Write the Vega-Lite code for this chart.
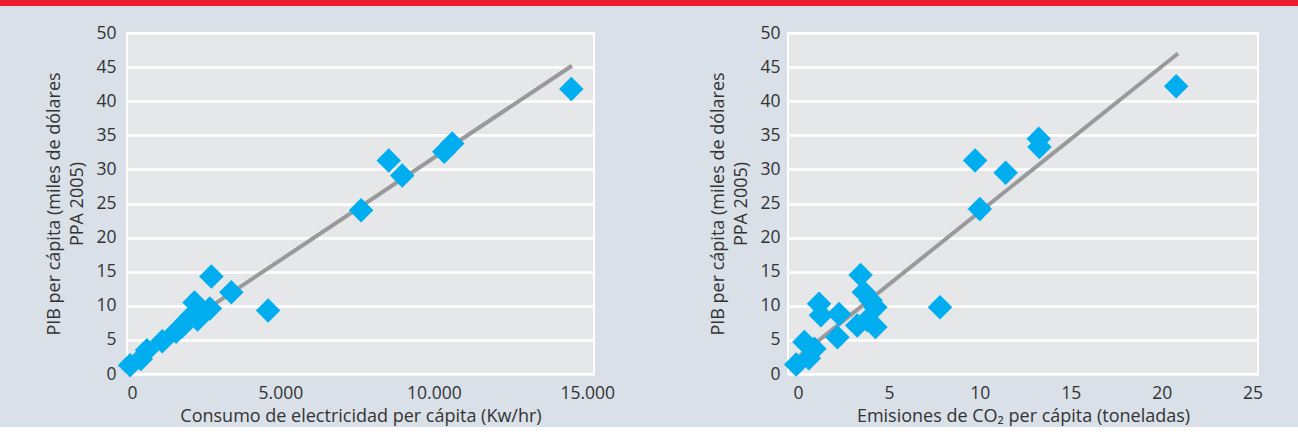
{
  "$schema": "https://vega.github.io/schema/vega-lite/v6.json",
  "background": "#d9e0e8",
  "padding": 0,
  "spacing": 17,
  "config": {
    "view": {"fill": "#e6e7e8", "stroke": "white", "strokeWidth": 2},
    "font": "Open Sans",
    "axis": {
      "domain": false,
      "ticks": false,
      "labelFont": "Open Sans",
      "labelFontSize": 17.5,
      "labelColor": "#333333",
      "titleFont": "Open Sans",
      "titleFontSize": 18,
      "titleFontWeight": "normal",
      "titleColor": "#333333",
      "titleLineHeight": 23,
      "gridColor": "white",
      "gridWidth": 2.5,
      "gridOpacity": 1,
      "labelOverlap": false
    }
  },
  "datasets": {
    "elec": [
      {"x": 100, "y": 1.3}, {"x": 450, "y": 2.2}, {"x": 650, "y": 3.5},
      {"x": 1150, "y": 4.8}, {"x": 1600, "y": 6.2}, {"x": 1800, "y": 7.0},
      {"x": 1950, "y": 7.8}, {"x": 2100, "y": 8.5}, {"x": 2200, "y": 10.5},
      {"x": 2300, "y": 8.0}, {"x": 2700, "y": 9.6}, {"x": 2750, "y": 14.3},
      {"x": 3400, "y": 12.0}, {"x": 4600, "y": 9.3}, {"x": 7630, "y": 24.0},
      {"x": 8530, "y": 31.3}, {"x": 8970, "y": 29.1}, {"x": 10340, "y": 32.6},
      {"x": 10600, "y": 33.8}, {"x": 14480, "y": 41.8}
    ],
    "elecfit": [{"x": 100, "y": 2.0}, {"x": 14500, "y": 45.2}],
    "co2": [
      {"x": -0.1, "y": 1.4}, {"x": 0.35, "y": 4.7}, {"x": 0.6, "y": 2.3},
      {"x": 0.9, "y": 3.7}, {"x": 1.16, "y": 10.3}, {"x": 1.26, "y": 8.6},
      {"x": 2.17, "y": 5.4}, {"x": 2.26, "y": 8.8}, {"x": 3.44, "y": 14.5},
      {"x": 3.62, "y": 12.0}, {"x": 3.26, "y": 7.1}, {"x": 3.99, "y": 10.8},
      {"x": 4.26, "y": 9.8}, {"x": 3.8, "y": 7.9}, {"x": 4.26, "y": 6.9},
      {"x": 7.81, "y": 9.8}, {"x": 10.0, "y": 24.2}, {"x": 9.74, "y": 31.3},
      {"x": 11.42, "y": 29.5}, {"x": 13.24, "y": 34.5}, {"x": 13.28, "y": 33.3},
      {"x": 20.8, "y": 42.2}
    ],
    "co2fit": [{"x": 0.1, "y": 2.7}, {"x": 20.9, "y": 47.0}]
  },
  "vconcat": [
    {
      "width": 1298,
      "height": 6,
      "view": {"fill": "#ed1b2f", "stroke": null},
      "data": {"values": [{}]},
      "mark": {"type": "rect", "color": "#ed1b2f"}
    },
    {
      "spacing": 43,
      "hconcat": [
        {
          "width": 1,
          "height": 341,
          "view": {"fill": null, "stroke": null},
          "data": {"values": [{}]},
          "mark": {"type": "rect", "opacity": 0}
        },
        {
          "spacing": 92,
          "hconcat": [
            {
              "width": 467,
              "height": 341,
              "encoding": {
                "x": {
                  "field": "x", "type": "quantitative",
                  "scale": {"domain": [0, 15220], "nice": false, "zero": false},
                  "axis": {
                    "values": [0, 5000, 10000, 15000], "grid": false,
                    "labelPadding": 10, "titlePadding": 6,
                    "labelExpr": "replace(format(datum.value, ','), ',', '.')",
                    "title": "Consumo de electricidad per cápita (Kw/hr)"
                  }
                },
                "y": {
                  "field": "y", "type": "quantitative",
                  "scale": {"domain": [0, 50], "nice": false},
                  "axis": {
                    "values": [0, 5, 10, 15, 20, 25, 30, 35, 40, 45, 50],
                    "labelPadding": 11, "titlePadding": 9,
                    "title": ["PIB per cápita (miles de dólares", "PPA 2005)"]
                  }
                }
              },
              "layer": [
                {
                  "data": {"name": "elecfit"},
                  "mark": {"type": "line", "color": "#9a9a9a", "strokeWidth": 4}
                },
                {
                  "data": {"name": "elec"},
                  "mark": {"type": "point", "shape": "diamond", "filled": true, "color": "#00aeef", "opacity": 1, "size": 600}
                }
              ]
            },
            {
              "width": 470,
              "height": 341,
              "encoding": {
                "x": {
                  "field": "x", "type": "quantitative",
                  "scale": {"domain": [-0.55, 25.3], "nice": false, "zero": false},
                  "axis": {
                    "values": [0, 5, 10, 15, 20, 25], "grid": false,
                    "labelPadding": 10, "titlePadding": 6,
                    "title": "Emisiones de CO₂ per cápita (toneladas)"
                  }
                },
                "y": {
                  "field": "y", "type": "quantitative",
                  "scale": {"domain": [0, 50], "nice": false},
                  "axis": {
                    "values": [0, 5, 10, 15, 20, 25, 30, 35, 40, 45, 50],
                    "labelPadding": 8, "titlePadding": 9,
                    "title": ["PIB per cápita (miles de dólares", "PPA 2005)"]
                  }
                }
              },
              "layer": [
                {
                  "data": {"name": "co2fit"},
                  "mark": {"type": "line", "color": "#9a9a9a", "strokeWidth": 4}
                },
                {
                  "data": {"name": "co2"},
                  "mark": {"type": "point", "shape": "diamond", "filled": true, "color": "#00aeef", "opacity": 1, "size": 600}
                }
              ]
            }
          ]
        }
      ]
    }
  ]
}
